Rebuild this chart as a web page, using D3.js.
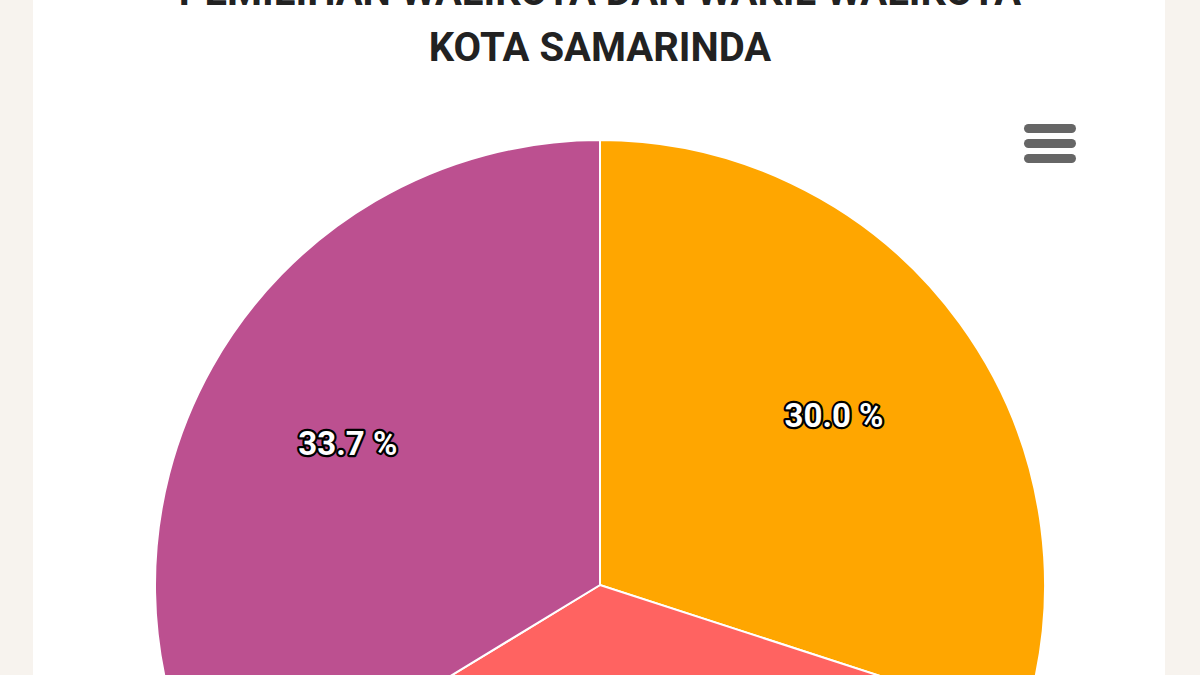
<!DOCTYPE html>
<html>
<head>
<meta charset="utf-8">
<script src="https://cdn.jsdelivr.net/npm/d3@7"></script>
<style>
  body { margin: 0; background: #f7f3ee; overflow: hidden; }
</style>
</head>
<body>
<div id="chart"></div>
<script>
const titleLines = ["PEMILIHAN WALIKOTA DAN WAKIL WALIKOTA", "KOTA SAMARINDA"];
const candidates = ["Paslon 1", "Paslon 2", "Paslon 3"];
const shares = [30.0, 36.3, 33.7];
const colors = ["#ffa600", "#ff6361", "#bc5090"];

const width = 1200, height = 675;
const svg = d3.select("#chart").append("svg")
    .attr("width", width)
    .attr("height", height);

// white card
svg.append("rect")
    .attr("x", 33).attr("y", -10)
    .attr("width", 1132).attr("height", height + 20)
    .attr("fill", "#fff");

// title
svg.selectAll(".title")
    .data(titleLines)
    .join("text")
    .attr("class", "title")
    .attr("x", 600)
    .attr("y", (d, i) => 5 + i * 56)
    .attr("text-anchor", "middle")
    .style("font-family", "Roboto")
    .style("font-weight", "bold")
    .style("font-size", "40px")
    .attr("fill", "#222")
    .text(d => d);

// hamburger menu
svg.append("g")
    .selectAll("rect")
    .data([0, 1, 2])
    .join("rect")
    .attr("x", 1024).attr("y", d => 124 + d * 15)
    .attr("width", 52).attr("height", 9).attr("rx", 4.5)
    .attr("fill", "#666");

const radius = 445;
const g = svg.append("g").attr("transform", "translate(600,585)");

const pie = d3.pie().sort(null).value(d => d.value);
const arcs = pie(candidates.map((c, i) => ({ name: c, value: shares[i], color: colors[i] })));
const arc = d3.arc().innerRadius(0).outerRadius(radius);
const labelArc = d3.arc().innerRadius(radius * 0.65).outerRadius(radius * 0.65);

g.selectAll("path")
    .data(arcs)
    .join("path")
    .attr("d", arc)
    .attr("fill", d => d.data.color)
    .attr("stroke", "#fff")
    .attr("stroke-width", 2);

g.selectAll(".lbl")
    .data(arcs)
    .join("text")
    .attr("class", "lbl")
    .attr("transform", d => `translate(${labelArc.centroid(d)})`)
    .attr("text-anchor", "middle")
    .attr("dy", "0.35em")
    .style("font-family", "Roboto")
    .style("font-weight", "bold")
    .style("font-size", "33px")
    .attr("fill", "#fff")
    .attr("stroke", "#000")
    .attr("stroke-width", 4.5)
    .attr("paint-order", "stroke")
    .attr("stroke-linejoin", "round")
    .text(d => d.data.value.toFixed(1) + " %");
</script>
</body>
</html>
